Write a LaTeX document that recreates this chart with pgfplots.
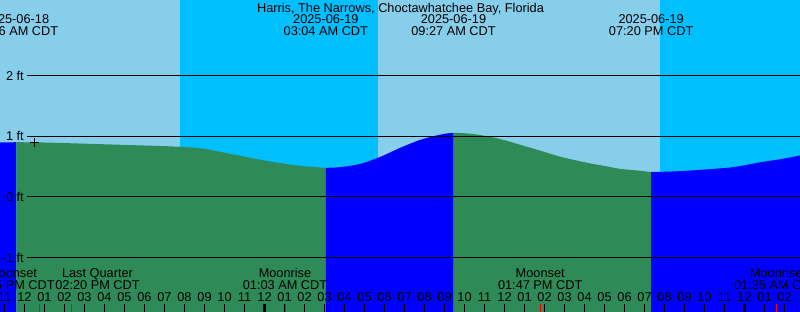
\documentclass[border=0pt]{standalone}
\usepackage{fontspec}
\setmainfont{Liberation Sans}
\usepackage{pgfplots}
\pgfplotsset{compat=1.18}
\usepgfplotslibrary{fillbetween}
\definecolor{dayblue}{HTML}{87CEEB}
\definecolor{nightblue}{HTML}{00BFFF}
\definecolor{fallgreen}{HTML}{2E8B57}
\definecolor{riseblue}{HTML}{0000FF}
\definecolor{moonred}{HTML}{FF0000}
\begin{document}
\fontsize{12.8}{14}\selectfont
\begin{tikzpicture}
\begin{axis}[
  set layers,
  axis on top,
  width=800bp, height=312bp, scale only axis,
  xmin=-13.225, xmax=26.775, ymin=-1.8984, ymax=3.2445,
  axis line style={draw=none},
  xtick={-13,...,26},
  xticklabels={11,12,01,02,03,04,05,06,07,08,09,10,11,12,01,02,03,04,05,06,07,08,09,10,11,12,01,02,03,04,05,06,07,08,09,10,11,12,01,02},
  xtick pos=bottom,
  x tick style={draw=none},
  xticklabel style={anchor=base, inner sep=0pt, yshift=11bp},
  ytick={-1,0,1,2}, yticklabels={-1 ft,0 ft,1 ft,2 ft},
  ytick pos=left,
  y tick style={draw=none},
  yticklabel style={anchor=east, inner sep=0pt, xshift=24bp},
  clip=true,
  unbounded coords=jump,
]
% day / night bands
\addplot[draw=none, fill=dayblue, on layer=axis background] coordinates {(-13.3,-2) (26.9,-2) (26.9,3.3) (-13.3,3.3)} -- cycle;
\addplot[draw=none, fill=nightblue, on layer=axis background] coordinates {(-4.225,-2) (5.675,-2) (5.675,3.3) (-4.225,3.3)} -- cycle;
\addplot[draw=none, fill=nightblue, on layer=axis background] coordinates {(19.775,-2) (26.9,-2) (26.9,3.3) (19.775,3.3)} -- cycle;
% tide curve
\addplot[draw=none, smooth, name path=tide] coordinates {
(-13.3,0.895) (-12.4,0.90) (-11.5,0.898) (-10.7,0.893) (-9.2,0.878) (-8.2,0.868)
(-7.2,0.858) (-6.2,0.848) (-5.2,0.838) (-4.2,0.824) (-3.2,0.80) (-2.2,0.74)
(-1.2,0.675) (-0.2,0.61) (0.8,0.555) (1.8,0.51) (2.8,0.483) (3.067,0.478)
(3.8,0.49) (4.8,0.544) (5.8,0.66) (6.8,0.81) (7.8,0.94) (8.8,1.026) (9.45,1.054)
(10.3,1.04) (11.3,0.99) (12.15,0.92) (12.8,0.857) (13.8,0.76) (14.8,0.66)
(15.45,0.61) (16.3,0.55) (17.15,0.50) (17.8,0.46) (18.8,0.43) (19.333,0.41)
(20.55,0.42) (21.8,0.445) (23.45,0.49) (24.8,0.57) (25.8,0.62) (26.9,0.69)};
\addplot[draw=none, name path=bottom] coordinates {(-13.3,-1.95) (26.9,-1.95)};
\addplot[fill=riseblue, draw=none] fill between[of=tide and bottom, soft clip={domain=-13.3:-12.4}];
\addplot[fill=fallgreen, draw=none] fill between[of=tide and bottom, soft clip={domain=-12.4:3.067}];
\addplot[fill=riseblue, draw=none] fill between[of=tide and bottom, soft clip={domain=3.067:9.45}];
\addplot[fill=fallgreen, draw=none] fill between[of=tide and bottom, soft clip={domain=9.45:19.333}];
\addplot[fill=riseblue, draw=none] fill between[of=tide and bottom, soft clip={domain=19.333:26.9}];
% grid lines
\addplot[black, line width=1bp] coordinates {(-11.9,2) (26.9,2)};
\addplot[black, line width=1bp] coordinates {(-11.9,1) (26.9,1)};
\addplot[black, line width=1bp] coordinates {(-11.9,0) (26.9,0)};
\addplot[black, line width=1bp] coordinates {(-11.9,-1) (26.9,-1)};
% current-time mark
\addplot[only marks, mark=+, mark size=4.5bp, black, line width=1bp] coordinates {(-11.5,0.903)};
% hour ticks
\addplot[black, line width=1bp] coordinates {
(-13,-1.7665) (-13,-1.95) (-13,nan) (-12,-1.7665) (-12,-1.95) (-12,nan)
(-11,-1.7665) (-11,-1.95) (-11,nan) (-10,-1.7665) (-10,-1.95) (-10,nan)
(-9,-1.7665) (-9,-1.95) (-9,nan) (-8,-1.7665) (-8,-1.95) (-8,nan)
(-7,-1.7665) (-7,-1.95) (-7,nan) (-6,-1.7665) (-6,-1.95) (-6,nan)
(-5,-1.7665) (-5,-1.95) (-5,nan) (-4,-1.7665) (-4,-1.95) (-4,nan)
(-3,-1.7665) (-3,-1.95) (-3,nan) (-2,-1.7665) (-2,-1.95) (-2,nan)
(-1,-1.7665) (-1,-1.95) (-1,nan) (0,-1.7665) (0,-1.95) (0,nan)
(1,-1.7665) (1,-1.95) (1,nan) (2,-1.7665) (2,-1.95) (2,nan)
(3,-1.7665) (3,-1.95) (3,nan) (4,-1.7665) (4,-1.95) (4,nan)
(5,-1.7665) (5,-1.95) (5,nan) (6,-1.7665) (6,-1.95) (6,nan)
(7,-1.7665) (7,-1.95) (7,nan) (8,-1.7665) (8,-1.95) (8,nan)
(9,-1.7665) (9,-1.95) (9,nan) (10,-1.7665) (10,-1.95) (10,nan)
(11,-1.7665) (11,-1.95) (11,nan) (12,-1.7665) (12,-1.95) (12,nan)
(13,-1.7665) (13,-1.95) (13,nan) (14,-1.7665) (14,-1.95) (14,nan)
(15,-1.7665) (15,-1.95) (15,nan) (16,-1.7665) (16,-1.95) (16,nan)
(17,-1.7665) (17,-1.95) (17,nan) (18,-1.7665) (18,-1.95) (18,nan)
(19,-1.7665) (19,-1.95) (19,nan) (20,-1.7665) (20,-1.95) (20,nan)
(21,-1.7665) (21,-1.95) (21,nan) (22,-1.7665) (22,-1.95) (22,nan)
(23,-1.7665) (23,-1.95) (23,nan) (24,-1.7665) (24,-1.95) (24,nan)
(25,-1.7665) (25,-1.95) (25,nan) (26,-1.7665) (26,-1.95)};
% midnight and moon-event ticks
\addplot[black, line width=3bp] coordinates {(0,-1.7665) (0,-1.95)};
\addplot[black, line width=3bp] coordinates {(24,-1.7665) (24,-1.95)};
\addplot[moonred, line width=1bp] coordinates {(-11.25,-1.7665) (-11.25,-1.95)};
\addplot[moonred, line width=1bp] coordinates {(-9.667,-1.7665) (-9.667,-1.95)};
\addplot[moonred, line width=1bp] coordinates {(1.05,-1.7665) (1.05,-1.95)};
\addplot[moonred, line width=1bp] coordinates {(13.783,-1.7665) (13.783,-1.95)};
\addplot[moonred, line width=1bp] coordinates {(25.583,-1.7665) (25.583,-1.95)};
% title and tide events
\node[anchor=base, inner sep=0pt] at (axis cs:6.8,3.04) {Harris, The Narrows, Choctawhatchee Bay, Florida};
\node[anchor=base, inner sep=0pt] at (axis cs:-12.4,2.85) {2025-06-18};
\node[anchor=base, inner sep=0pt] at (axis cs:-12.4,2.652) {11:36 AM CDT};
\node[anchor=base, inner sep=0pt] at (axis cs:3.067,2.85) {2025-06-19};
\node[anchor=base, inner sep=0pt] at (axis cs:3.067,2.652) {03:04 AM CDT};
\node[anchor=base, inner sep=0pt] at (axis cs:9.45,2.85) {2025-06-19};
\node[anchor=base, inner sep=0pt] at (axis cs:9.45,2.652) {09:27 AM CDT};
\node[anchor=base, inner sep=0pt] at (axis cs:19.333,2.85) {2025-06-19};
\node[anchor=base, inner sep=0pt] at (axis cs:19.333,2.652) {07:20 PM CDT};
% moon events
\node[anchor=base, inner sep=0pt] at (axis cs:-12.6,-1.33) {Moonset};
\node[anchor=base, inner sep=0pt] at (axis cs:-12.6,-1.52) {12:45 PM CDT};
\node[anchor=base, inner sep=0pt] at (axis cs:-8.35,-1.33) {Last Quarter};
\node[anchor=base, inner sep=0pt] at (axis cs:-8.35,-1.52) {02:20 PM CDT};
\node[anchor=base, inner sep=0pt] at (axis cs:1.025,-1.33) {Moonrise};
\node[anchor=base, inner sep=0pt] at (axis cs:1.025,-1.52) {01:03 AM CDT};
\node[anchor=base, inner sep=0pt] at (axis cs:13.785,-1.33) {Moonset};
\node[anchor=base, inner sep=0pt] at (axis cs:13.785,-1.52) {01:47 PM CDT};
\node[anchor=base, inner sep=0pt] at (axis cs:25.585,-1.33) {Moonrise};
\node[anchor=base, inner sep=0pt] at (axis cs:25.585,-1.52) {01:35 AM CDT};
\coordinate (sw) at (rel axis cs:0,0);
\coordinate (ne) at (rel axis cs:1,1);
\end{axis}
\pgfresetboundingbox
\path[use as bounding box] (sw) rectangle (ne);
\end{tikzpicture}
\end{document}
